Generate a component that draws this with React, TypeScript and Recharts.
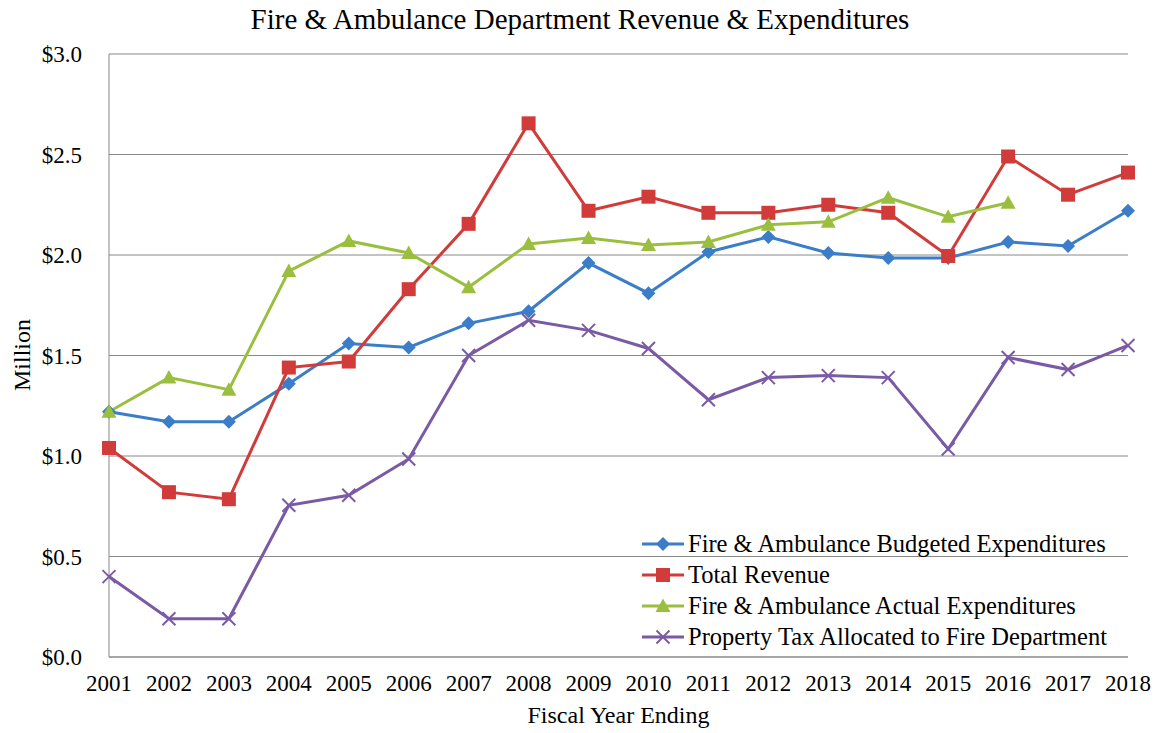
import { LineChart, Line, XAxis, YAxis, CartesianGrid } from 'recharts';

// Fiscal years on the x axis
const years = ['2001', '2002', '2003', '2004', '2005', '2006', '2007', '2008', '2009', '2010', '2011', '2012', '2013', '2014', '2015', '2016', '2017', '2018'];

// Values in $ million
const budgeted = [1.22, 1.17, 1.17, 1.36, 1.56, 1.54, 1.66, 1.72, 1.96, 1.81, 2.015, 2.09, 2.01, 1.985, 1.985, 2.065, 2.045, 2.22];
const revenue = [1.04, 0.82, 0.785, 1.44, 1.47, 1.83, 2.155, 2.655, 2.22, 2.29, 2.21, 2.21, 2.25, 2.21, 1.995, 2.49, 2.3, 2.41];
const actual: (number | null)[] = [1.22, 1.39, 1.33, 1.92, 2.07, 2.01, 1.84, 2.055, 2.085, 2.05, 2.065, 2.15, 2.165, 2.285, 2.19, 2.26, null, null];
const propertyTax = [0.4, 0.19, 0.19, 0.755, 0.805, 0.985, 1.5, 1.675, 1.625, 1.535, 1.28, 1.39, 1.4, 1.39, 1.035, 1.49, 1.43, 1.55];

const yTicks = [0, 0.5, 1, 1.5, 2, 2.5, 3];

const data = years.map((y, i) => ({
  year: y,
  budgeted: budgeted[i],
  revenue: revenue[i],
  actual: actual[i],
  propertyTax: propertyTax[i],
}));

const FONT = '"Liberation Serif", "Times New Roman", serif';

const BLUE = '#3b7dc8';
const RED = '#d13b3a';
const GREEN = '#9abf3f';
const PURPLE = '#7a5aa5';

// Marker shapes like the Excel ones
function marker(kind: string, color: string, cx: number, cy: number, key?: string | number) {
  if (kind === 'diamond') {
    const r = 7;
    return <polygon key={key} points={`${cx},${cy - r} ${cx + r},${cy} ${cx},${cy + r} ${cx - r},${cy}`} fill={color} />;
  }
  if (kind === 'square') {
    const s = 7;
    return <rect key={key} x={cx - s} y={cy - s} width={s * 2} height={s * 2} fill={color} />;
  }
  if (kind === 'triangle') {
    const s = 7.5;
    return <polygon key={key} points={`${cx},${cy - s} ${cx + s},${cy + s * 0.8} ${cx - s},${cy + s * 0.8}`} fill={color} />;
  }
  const s = 6.5;
  return (
    <g key={key} stroke={color} strokeWidth={2}>
      <line x1={cx - s} y1={cy - s} x2={cx + s} y2={cy + s} />
      <line x1={cx - s} y1={cy + s} x2={cx + s} y2={cy - s} />
    </g>
  );
}

const makeDot = (kind: string, color: string) => (props: any) => {
  const { cx, cy, index } = props;
  if (cx == null || cy == null || Number.isNaN(cy)) return <g key={index} />;
  return marker(kind, color, cx, cy, index);
};

const series = [
  { key: 'budgeted', name: 'Fire & Ambulance Budgeted Expenditures', color: BLUE, kind: 'diamond' },
  { key: 'revenue', name: 'Total Revenue', color: RED, kind: 'square' },
  { key: 'actual', name: 'Fire & Ambulance Actual Expenditures', color: GREEN, kind: 'triangle' },
  { key: 'propertyTax', name: 'Property Tax Allocated to Fire Department', color: PURPLE, kind: 'x' },
];

// Legend drawn like in the picture: short line with marker, then the name
function LegendBox() {
  return (
    <div style={{ position: 'absolute', left: 640, top: 528, fontFamily: FONT, fontSize: 24.5, color: '#000', lineHeight: '31px' }}>
      {series.map((s) => (
        <div key={s.key} style={{ display: 'flex', alignItems: 'center', height: 31, whiteSpace: 'nowrap' }}>
          <svg width={46} height={20} style={{ marginRight: 2 }}>
            <line x1={2} y1={10} x2={44} y2={10} stroke={s.color} strokeWidth={3} />
            {marker(s.kind, s.color, 23, 10)}
          </svg>
          <span>{s.name}</span>
        </div>
      ))}
    </div>
  );
}

export default function App() {
  return (
    <div style={{ position: 'absolute', left: 0, top: 0, width: 1160, height: 733, background: '#fff' }}>
      <LineChart width={1160} height={733} data={data} margin={{ top: 54, right: 32, left: 29, bottom: 36 }}>
        <CartesianGrid vertical={false} stroke="#888" />
        <XAxis
          dataKey="year"
          stroke="#888"
          tickLine={false}
          tickSize={0}
          tickMargin={18}
          height={40}
          tick={{ fill: '#000', fontFamily: FONT, fontSize: 23 }}
          interval={0}
        />
        <YAxis
          domain={[0, 3]}
          ticks={yTicks}
          stroke="#888"
          tickLine={false}
          tickSize={0}
          tickMargin={27}
          width={80}
          tickFormatter={(v: number) => `$${v.toFixed(1)}`}
          tick={{ fill: '#000', fontFamily: FONT, fontSize: 23 }}
        />
        {series.map((s) => (
          <Line
            key={s.key}
            type="linear"
            dataKey={s.key}
            name={s.name}
            stroke={s.color}
            strokeWidth={3}
            dot={makeDot(s.kind, s.color)}
            activeDot={false}
            isAnimationActive={false}
            connectNulls={false}
          />
        ))}
      </LineChart>
      <div style={{ position: 'absolute', top: 3, left: 0, width: 1160, textAlign: 'center', fontFamily: FONT, fontSize: 29, color: '#000' }}>
        Fire &amp; Ambulance Department Revenue &amp; Expenditures
      </div>
      <div style={{ position: 'absolute', top: 702, left: 109, width: 1019, textAlign: 'center', fontFamily: FONT, fontSize: 24, color: '#000' }}>
        Fiscal Year Ending
      </div>
      <div style={{ position: 'absolute', left: 22, top: 355, transform: 'translate(-50%, -50%) rotate(-90deg)', fontFamily: FONT, fontSize: 24, color: '#000', whiteSpace: 'nowrap' }}>
        Million
      </div>
      <LegendBox />
    </div>
  );
}
